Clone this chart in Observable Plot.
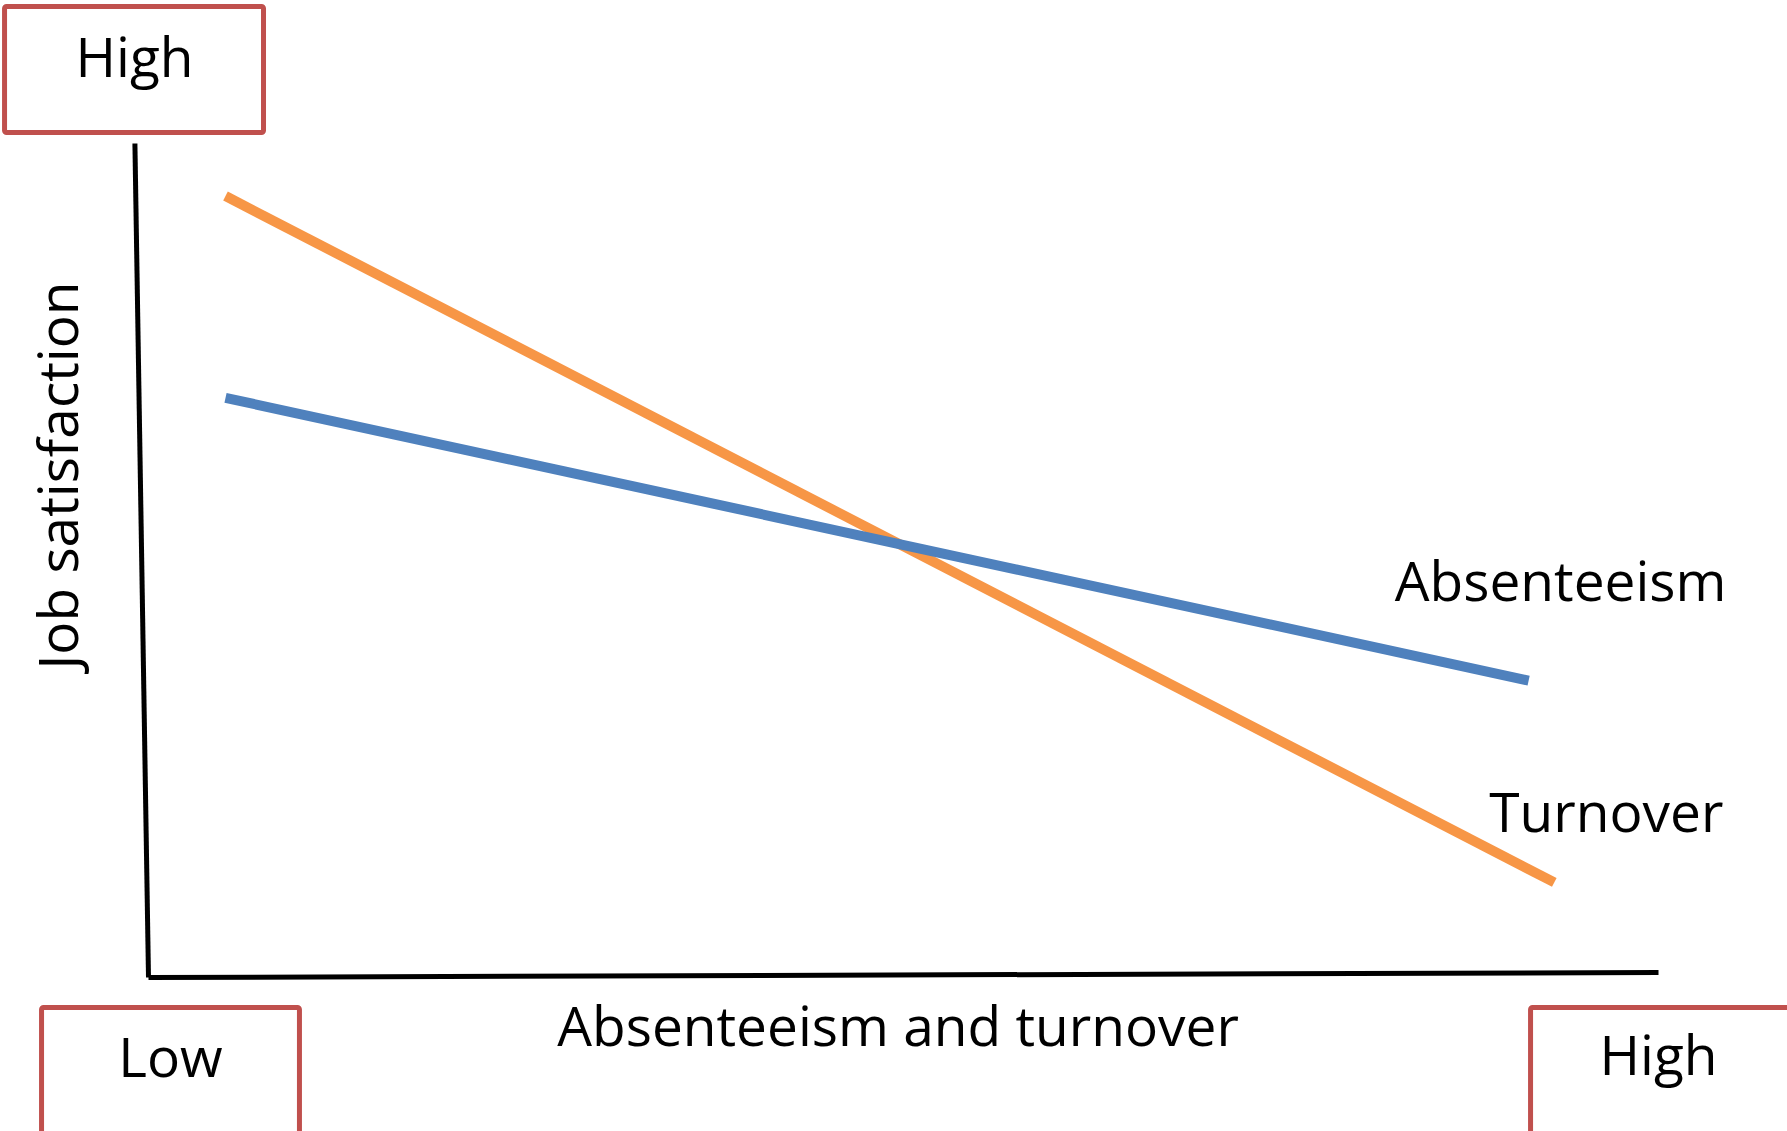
<!DOCTYPE html>
<html>
<head>
<meta charset="utf-8">
<script src="https://cdn.jsdelivr.net/npm/d3@7"></script>
<script src="https://cdn.jsdelivr.net/npm/@observablehq/plot@0.6"></script>
<style>
  html, body { margin: 0; padding: 0; background: #fff; overflow: hidden; }
  #chart svg { display: block; }
</style>
</head>
<body>
<div id="chart"></div>
<script>
// Conceptual chart: x = absenteeism & turnover (0 = low, 10 = high), y = job satisfaction (0 = low, 10 = high)
const seriesNames = ["Turnover", "Absenteeism"];
const seriesColors = ["#f79646", "#4f81bd"];
const turnoverX = [0.51, 9.31];
const turnoverY = [9.37, 1.14];
const absenteeismX = [0.51, 9.14];
const absenteeismY = [6.95, 3.56];

// hand-drawn axes (slightly tilted in the original)
const yAxisX = [0, -0.09];
const yAxisY = [0, 10];
const xAxisX = [0, 10];
const xAxisY = [0, 0.06];

// labels
const axisTitleX = "Absenteeism and turnover";
const axisTitleY = "Job satisfaction";
const endLabels = ["Absenteeism", "Turnover"];
const endLabelX = [10.45, 10.43];
const endLabelY = [4.52, 1.74];

// "Low"/"High" boxes
const boxText = ["High", "Low", "High"];
const boxX1 = [-0.95, -0.705, 9.156];
const boxX2 = [0.765, 1.003, 11.5];
const boxY1 = [10.126, -0.366, -0.366];
const boxY2 = [11.637, -2.5, -2.5];
const boxTextX = [-0.093, 0.145, 10.0];
const boxTextY = [10.80, -1.199, -1.175];

const lines = [
  ...turnoverX.map((x, i) => ({series: "Turnover", x, y: turnoverY[i]})),
  ...absenteeismX.map((x, i) => ({series: "Absenteeism", x, y: absenteeismY[i]}))
];
const yAxisData = yAxisX.map((x, i) => ({x, y: yAxisY[i]}));
const xAxisData = xAxisX.map((x, i) => ({x, y: xAxisY[i]}));
const endLabelData = endLabels.map((t, i) => ({t, x: endLabelX[i], y: endLabelY[i]}));
const boxes = boxText.map((t, i) => ({t, x1: boxX1[i], x2: boxX2[i], y1: boxY1[i], y2: boxY2[i], tx: boxTextX[i], ty: boxTextY[i]}));

const chart = Plot.plot({
  width: 1787,
  height: 1131,
  margin: 0,
  style: {fontFamily: "'Open Sans', sans-serif", background: "#fff", overflow: "visible"},
  x: {domain: [0, 10], range: [148, 1658], axis: null},
  y: {domain: [0, 10], range: [977, 143], axis: null},
  color: {domain: seriesNames, range: seriesColors},
  marks: [
    Plot.rect(boxes, {x1: "x1", x2: "x2", y1: "y1", y2: "y2", fill: "#fff", stroke: "#c0504d", strokeWidth: 5, rx: 2, clip: false}),
    Plot.text(boxes, {x: "tx", y: "ty", text: "t", fontSize: 55, fill: "#000", textAnchor: "middle", lineAnchor: "bottom"}),
    Plot.line(yAxisData, {x: "x", y: "y", stroke: "#000", strokeWidth: 5, strokeLinecap: "butt"}),
    Plot.line(xAxisData, {x: "x", y: "y", stroke: "#000", strokeWidth: 5, strokeLinecap: "butt"}),
    Plot.line(lines, {x: "x", y: "y", z: "series", stroke: "series", strokeWidth: 10, strokeLinecap: "butt"}),
    Plot.text(endLabelData, {x: "x", y: "y", text: "t", fontSize: 55, fill: "#000", textAnchor: "end", lineAnchor: "bottom"}),
    Plot.text([axisTitleX], {x: 4.964, y: -0.827, text: d => d, fontSize: 55, fill: "#000", textAnchor: "middle", lineAnchor: "bottom"}),
    Plot.text([axisTitleY], {x: -0.464, y: 6.02, text: d => d, fontSize: 55, fill: "#000", rotate: -90, textAnchor: "middle", lineAnchor: "bottom"})
  ]
});
document.getElementById("chart").appendChild(chart);
</script>
</body>
</html>
